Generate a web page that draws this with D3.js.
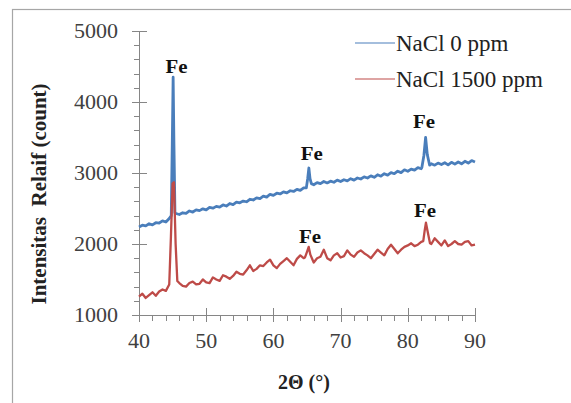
<!DOCTYPE html>
<html>
<head>
<meta charset="utf-8">
<script src="https://cdn.jsdelivr.net/npm/d3@7"></script>
<style>
  body { margin: 0; background: #fff; }
  svg { display: block; }
  text { font-family: "Liberation Serif", "Times New Roman", serif; }
</style>
</head>
<body>
<div id="chart"></div>
<script>
// 2-theta grid (0.5 deg steps) and readings for both series
const angleStart = 40, angleEnd = 90, angleStep = 0.5;

const blueBase = [
  2240, 2265, 2255, 2285, 2270, 2300, 2295, 2325, 2310, 2360,
  2400, 2430, 2415, 2440, 2430, 2465, 2450, 2480, 2470, 2495,
  2480, 2515, 2505, 2530, 2520, 2550, 2535, 2570, 2555, 2590,
  2580, 2605, 2595, 2630, 2620, 2650, 2640, 2675, 2660, 2700,
  2685, 2715, 2705, 2735, 2720, 2750, 2740, 2770, 2755, 2790,
  2800, 2850, 2835, 2865, 2850, 2880, 2860, 2885, 2870, 2900,
  2880, 2905, 2890, 2920, 2900, 2930, 2915, 2945, 2930, 2960,
  2940, 2975, 2955, 2990, 2970, 3005, 2990, 3025, 3005, 3045,
  3025, 3055, 3040, 3075, 3060, 3080, 3090, 3130, 3110, 3140,
  3120, 3145, 3115, 3150, 3125, 3155, 3130, 3165, 3140, 3175,
  3155
];

const redBase = [
  1260, 1300, 1240, 1280, 1320, 1270, 1330, 1360, 1340, 1420,
  1500, 1480, 1450, 1410, 1400, 1450, 1470, 1430, 1440, 1500,
  1460, 1450, 1530, 1500, 1480, 1560, 1540, 1510, 1550, 1610,
  1580, 1570, 1630, 1700, 1620, 1650, 1700, 1690, 1740, 1780,
  1700, 1660, 1720, 1760, 1800, 1750, 1700, 1790, 1840, 1800,
  1850, 1800, 1740, 1800, 1820, 1920, 1800, 1770, 1840, 1870,
  1810, 1830, 1910, 1850, 1820, 1880, 1910, 1870, 1840, 1800,
  1860, 1920, 1880, 1840, 1930, 1990, 1930, 1870, 1920, 1960,
  1980, 2010, 1970, 1990, 2030, 2100, 2050, 2000, 2080, 2030,
  1980, 2050, 1970, 2000, 2040, 2000, 1990, 2030, 2040, 1980,
  1990
];

// diffraction peaks as [angle, count]
const bluePeaks = [
  [[44.8, 2400], [44.95, 3400], [45.08, 4350], [45.2, 3400], [45.35, 2440]],
  [[64.9, 2790], [65.1, 2920], [65.28, 3070], [65.45, 2920], [65.65, 2850]],
  [[82.1, 3080], [82.4, 3250], [82.65, 3500], [82.9, 3260], [83.25, 3110]]
];
const redPeaks = [
  [[44.5, 1430], [44.75, 2100], [45.0, 2850], [45.2, 2870], [45.45, 2000], [45.7, 1480]],
  [[64.7, 1810], [65.0, 1890], [65.25, 1960], [65.5, 1850], [65.9, 1760]],
  [[82.3, 2040], [82.5, 2180], [82.7, 2300], [82.9, 2200], [83.3, 2010]]
];

const seriesNames = ["NaCl 0 ppm", "NaCl 1500 ppm"];
const seriesColors = ["#4a7ebb", "#be4b48"];

// Fe annotations [angle, count]
const feLabels = [
  [45.6, 4410], [65.7, 3180], [82.4, 3630],
  [65.45, 2010], [82.55, 2380]
];

const xTicks = [40, 50, 60, 70, 80, 90];
const yTicks = [1000, 2000, 3000, 4000, 5000];

const width = 571, height = 403;
const x = d3.scaleLinear().domain([40, 90]).range([139, 475]);
const y = d3.scaleLinear().domain([1000, 5000]).range([315, 31]);

function buildSeries(base, peaks) {
  const angles = d3.range(0, base.length).map(i => angleStart + i * angleStep);
  let pts = angles.map((a, i) => [a, base[i]]);
  peaks.forEach(pk => {
    const lo = pk[0][0], hi = pk[pk.length - 1][0];
    pts = pts.filter(p => p[0] < lo || p[0] > hi).concat(pk);
  });
  return pts.sort((a, b) => a[0] - b[0]);
}

const blue = buildSeries(blueBase, bluePeaks);
const red = buildSeries(redBase, redPeaks);

const svg = d3.select("#chart").append("svg")
  .attr("width", width)
  .attr("height", height);

svg.append("rect")
  .attr("width", width).attr("height", height)
  .attr("fill", "#fff");

// chart frame (only top and left edges fall inside the picture)
svg.append("rect")
  .attr("x", 12.5).attr("y", 9.5)
  .attr("width", 700).attr("height", 500)
  .attr("fill", "none")
  .attr("stroke", "#a6a6a6")
  .attr("stroke-width", 1.2);

const axisColor = "#868686";

// y axis
const gy = svg.append("g");
gy.append("line")
  .attr("x1", 139.5).attr("x2", 139.5)
  .attr("y1", y(5000)).attr("y2", y(1000))
  .attr("stroke", axisColor);
gy.selectAll(".minor").data(d3.range(1000, 5001, 200)).enter().append("line")
  .attr("x1", 134).attr("x2", 139.5)
  .attr("y1", d => Math.round(y(d)) + 0.5).attr("y2", d => Math.round(y(d)) + 0.5)
  .attr("stroke", axisColor);
gy.selectAll(".major").data(yTicks).enter().append("line")
  .attr("x1", 132).attr("x2", 147)
  .attr("y1", d => Math.round(y(d)) + 0.5).attr("y2", d => Math.round(y(d)) + 0.5)
  .attr("stroke", axisColor);
gy.selectAll(".lbl").data(yTicks).enter().append("text")
  .attr("x", 118).attr("y", d => y(d) + 7)
  .attr("text-anchor", "end")
  .attr("font-size", 22)
  .attr("fill", "#404040")
  .text(d => d);

// x axis
const gx = svg.append("g");
gx.append("line")
  .attr("x1", x(40)).attr("x2", x(90))
  .attr("y1", 315.5).attr("y2", 315.5)
  .attr("stroke", axisColor);
gx.selectAll(".minor").data(d3.range(40, 90.1, 2)).enter().append("line")
  .attr("x1", d => Math.round(x(d)) + 0.5).attr("x2", d => Math.round(x(d)) + 0.5)
  .attr("y1", 315.5).attr("y2", 321)
  .attr("stroke", axisColor);
gx.selectAll(".major").data(xTicks).enter().append("line")
  .attr("x1", d => Math.round(x(d)) + 0.5).attr("x2", d => Math.round(x(d)) + 0.5)
  .attr("y1", 308).attr("y2", 322)
  .attr("stroke", axisColor);
gx.selectAll(".lbl").data(xTicks).enter().append("text")
  .attr("x", d => x(d)).attr("y", 348)
  .attr("text-anchor", "middle")
  .attr("font-size", 22)
  .attr("fill", "#404040")
  .text(d => d);

// axis titles
svg.append("text")
  .attr("x", 304).attr("y", 389)
  .attr("text-anchor", "middle")
  .attr("font-size", 20)
  .attr("font-weight", "bold")
  .attr("fill", "#222")
  .text("2\u0398 (\u00b0)");

svg.append("text")
  .attr("transform", "translate(46,194) rotate(-90)")
  .attr("text-anchor", "middle")
  .attr("font-size", 21)
  .attr("font-weight", "bold")
  .attr("fill", "#222")
  .style("white-space", "pre")
  .text("Intensitas  Relaif (count)");

// data lines
const line = d3.line().x(d => x(d[0])).y(d => y(d[1]));
[blue, red].forEach((s, i) => {
  svg.append("path")
    .datum(s)
    .attr("d", line)
    .attr("fill", "none")
    .attr("stroke", seriesColors[i])
    .attr("stroke-width", i === 0 ? 2.8 : 2.3)
    .attr("stroke-linejoin", "round");
});

// Fe labels
svg.selectAll(".fe").data(feLabels).enter().append("text")
  .attr("x", d => x(d[0])).attr("y", d => y(d[1]))
  .attr("text-anchor", "middle")
  .attr("font-size", 18)
  .attr("font-weight", "bold")
  .attr("fill", "#111")
  .attr("textLength", 22)
  .attr("lengthAdjust", "spacingAndGlyphs")
  .text("Fe");

// legend
const legend = svg.append("g");
seriesNames.forEach((name, i) => {
  const ly = 43 + i * 36;
  legend.append("line")
    .attr("x1", 355).attr("x2", 395)
    .attr("y1", ly).attr("y2", ly)
    .attr("stroke", seriesColors[i])
    .attr("stroke-width", 1.2);
  legend.append("text")
    .attr("x", 396).attr("y", ly + 8)
    .attr("font-size", 23)
    .attr("fill", "#222")
    .text(name);
});
</script>
</body>
</html>
